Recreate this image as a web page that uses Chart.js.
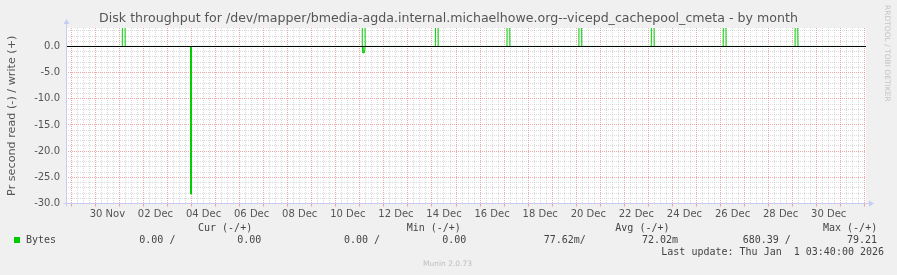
<!DOCTYPE html>
<html>
<head>
<meta charset="utf-8">
<script src="https://cdn.jsdelivr.net/npm/chart.js@4/dist/chart.umd.min.js"></script>
<style>
    body { margin: 0; background: #f0f0f0; }
    #wrap { position: relative; width: 897px; height: 275px; }
    .t { position: absolute; font: 10px "DejaVu Sans Mono", monospace; color: #444; white-space: pre; line-height: 12px; }
    #rrd { position: absolute; left: 883px; top: 5px; writing-mode: vertical-rl; font: 7.5px "DejaVu Sans", sans-serif; color: #c4c4c4; }
    #munin { position: absolute; left: 423px; top: 259px; font: 7.5px "DejaVu Sans", sans-serif; color: #bdbdbd; }
    #swatch { position: absolute; left: 14px; top: 237px; width: 6px; height: 6px; background: #00cc00; }
</style>
</head>
<body>
<div id="wrap">
    <canvas id="diskChart" width="897" height="275"></canvas>
    <div id="rrd">RRDTOOL / TOBI OETIKER</div>
    <div id="munin">Munin 2.0.73</div>
    <div id="swatch"></div>
</div>
<script>
// x values are days since 30 Nov 00:00
const xMin = -1.22;
const xMax = 32.05;

// tick labels, one every 2 days (placed at noon)
const dayLabels = ['30 Nov', '02 Dec', '04 Dec', '06 Dec', '08 Dec', '10 Dec', '12 Dec', '14 Dec',
                   '16 Dec', '18 Dec', '20 Dec', '22 Dec', '24 Dec', '26 Dec', '28 Dec', '30 Dec'];

// write (+) series
const writeX = [-1.22,
    1.12, 1.16, 1.20, 1.24,
    11.10, 11.14, 11.18, 11.22,
    14.14, 14.18, 14.22, 14.26,
    17.12, 17.16, 17.20, 17.24,
    20.11, 20.15, 20.19, 20.23,
    23.12, 23.16, 23.20, 23.24,
    26.11, 26.15, 26.19, 26.23,
    29.10, 29.14, 29.18, 29.22,
    32.05];
const writeY = [0,
    0, 42.5, 42.5, 0,
    0, 79.21, 79.21, 0,
    0, 38.7, 38.7, 0,
    0, 40.1, 40.1, 0,
    0, 39.4, 39.4, 0,
    0, 41.2, 41.2, 0,
    0, 38.9, 38.9, 0,
    0, 40.6, 40.6, 0,
    0];

// read (-) series
const readX = [-1.22, 3.96, 3.97, 3.99, 4.00, 11.10, 11.13, 11.19, 11.22, 32.05];
const readY = [0, 0, -28.2, -28.2, 0, 0, -1.2, -1.2, 0, 0];

// zero rule
const zeroX = [-1.22, 32.05];
const zeroY = [0, 0];

// legend text
const legendHead = ['Cur (-/+)', 'Min (-/+)', 'Avg (-/+)', 'Max (-/+)'];
const legendVals = ['0.00 /', '0.00', '0.00 /', '0.00', '77.62m/', '72.02m', '680.39 /', '79.21'];
const lastUpdate = 'Last update: Thu Jan  1 03:40:00 2026';

function toPoints(xs, ys) {
    return xs.map((x, i) => ({ x: x, y: ys[i] }));
}

// put the legend text in place
const wrap = document.getElementById('wrap');
function addText(str, left, top) {
    const el = document.createElement('div');
    el.className = 't';
    el.textContent = str;
    el.style.left = left + 'px';
    el.style.top = top + 'px';
    wrap.appendChild(el);
}
const headLeft = [198, 406.7, 615.3, 823];
legendHead.forEach((h, i) => addText(h, headLeft[i], 221.5));
addText('Bytes', 26, 234);
const valLeft = [139.3, 237.3, 344, 442.3, 543.7, 642, 742.7, 847];
legendVals.forEach((v, i) => addText(v, valLeft[i], 234));
addText(lastUpdate, 661.3, 245.5);

// white plot background + blue axis arrows
const rrdLook = {
    id: 'rrdLook',
    beforeDraw(chart) {
        const a = chart.chartArea;
        const ctx = chart.ctx;
        ctx.save();
        ctx.fillStyle = '#ffffff';
        ctx.fillRect(a.left, a.top, a.right - a.left, a.bottom - a.top);
        ctx.restore();
    },
    afterDraw(chart) {
        const a = chart.chartArea;
        const ctx = chart.ctx;
        const x0 = Math.round(a.left) + 0.5;
        const y0 = Math.floor(a.bottom) + 0.5;
        ctx.save();
        ctx.strokeStyle = '#c8ccf2';
        ctx.fillStyle = '#c8ccf2';
        ctx.lineWidth = 1;
        ctx.beginPath();
        ctx.moveTo(x0, y0 + 3);
        ctx.lineTo(x0, a.top - 4);
        ctx.moveTo(x0 - 3, y0);
        ctx.lineTo(a.right + 4, y0);
        ctx.stroke();
        ctx.beginPath();
        ctx.moveTo(x0 - 3, a.top - 4);
        ctx.lineTo(x0 + 3, a.top - 4);
        ctx.lineTo(x0, a.top - 9);
        ctx.closePath();
        ctx.fill();
        ctx.beginPath();
        ctx.moveTo(a.right + 3, y0 - 3);
        ctx.lineTo(a.right + 3, y0 + 3);
        ctx.lineTo(a.right + 8, y0);
        ctx.closePath();
        ctx.fill();
        ctx.restore();
    }
};

Chart.defaults.font.family = '"DejaVu Sans", sans-serif';

const minorGrid = 'rgba(175,175,175,0.45)';
const majorGrid = 'rgba(225,110,110,0.6)';

const ctx = document.getElementById('diskChart').getContext('2d');
new Chart(ctx, {
    type: 'line',
    data: {
        datasets: [
            {
                label: 'zero',
                data: toPoints(zeroX, zeroY),
                borderColor: '#000000',
                borderWidth: 1,
                pointRadius: 0
            },
            {
                label: 'Bytes write',
                data: toPoints(writeX, writeY),
                borderColor: '#00cc00',
                borderWidth: 1,
                pointRadius: 0,
                tension: 0
            },
            {
                label: 'Bytes read',
                data: toPoints(readX, readY),
                borderColor: '#00cc00',
                borderWidth: 1,
                pointRadius: 0,
                tension: 0
            }
        ]
    },
    options: {
        responsive: false,
        animation: false,
        layout: {
            padding: 0
        },
        scales: {
            x: {
                type: 'linear',
                min: xMin,
                max: xMax,
                afterFit: scale => { scale.height = 71.5; },
                border: { display: false, dash: [1, 1] },
                grid: {
                    color: c => Number.isInteger(c.tick.value) ? majorGrid : minorGrid,
                    tickColor: c => Number.isInteger(c.tick.value) ? majorGrid : 'rgba(0,0,0,0)',
                    tickLength: 3,
                    lineWidth: 1
                },
                ticks: {
                    stepSize: 0.25,
                    includeBounds: false,
                    autoSkip: false,
                    maxRotation: 0,
                    padding: 2,
                    color: '#555',
                    font: { size: 10 },
                    callback: value => {
                        const idx = (value - 0.5) / 2;
                        return Number.isInteger(idx) && idx >= 0 && idx < dayLabels.length ? dayLabels[idx] : '';
                    }
                }
            },
            y: {
                min: -30,
                max: 3.535,
                afterFit: scale => { scale.width = 66; },
                border: { display: false, dash: [1, 1] },
                grid: {
                    color: c => c.tick.value % 5 === 0 ? majorGrid : minorGrid,
                    drawTicks: false,
                    lineWidth: 1
                },
                ticks: {
                    stepSize: 1,
                    includeBounds: false,
                    autoSkip: false,
                    padding: 6,
                    color: '#555',
                    font: { size: 10 },
                    callback: value => value % 5 === 0 ? value.toFixed(1) : ''
                },
                title: {
                    display: true,
                    text: 'Pr second read (-) / write (+)',
                    color: '#555',
                    font: { size: 11.2 },
                    padding: { top: 5, bottom: 0 }
                }
            },
            // empty right-hand strip so the plot stops where the reference does
            yRight: {
                position: 'right',
                afterFit: scale => { scale.width = 31; },
                border: { display: false },
                grid: { display: false, drawTicks: false },
                ticks: { display: false }
            }
        },
        plugins: {
            legend: { display: false },
            tooltip: { enabled: false },
            title: {
                display: true,
                text: 'Disk throughput for /dev/mapper/bmedia-agda.internal.michaelhowe.org--vicepd_cachepool_cmeta - by month',
                color: '#555',
                font: { size: 12.6, weight: 'normal' },
                padding: { top: 10.88, bottom: 2 }
            }
        }
    },
    plugins: [rrdLook]
});
</script>
</body>
</html>
